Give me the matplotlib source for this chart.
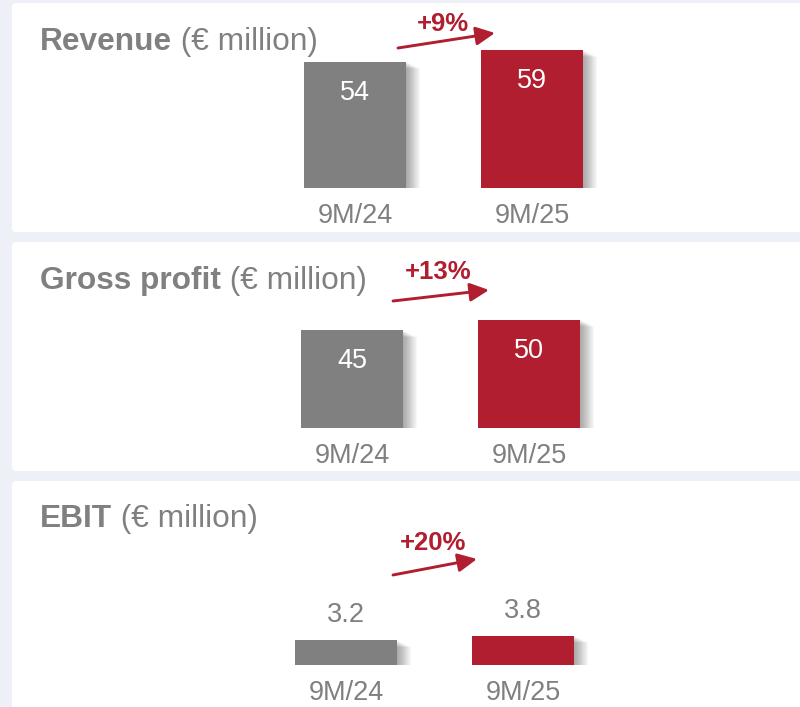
import matplotlib.pyplot as plt
import matplotlib.patheffects as pe
from matplotlib.patches import FancyBboxPatch, FancyArrowPatch
from matplotlib.transforms import Affine2D

plt.rcParams['font.family'] = ['Liberation Sans', 'DejaVu Sans']

# Data
periods = ['9M/24', '9M/25']
metrics = ['Revenue', 'Gross profit', 'EBIT']
unit = ' (€ million)'
revenue = [54, 59]
gross_profit = [45, 50]
ebit = [3.2, 3.8]
growth = ['+9%', '+13%', '+20%']

# Colours
BG = '#edf0f7'
GREY = '#808080'
RED = '#b01e30'

W, H = 800, 707

# Layout of each card, in pixels from the top-left corner
layout = [
    dict(top=3, bottom=232, x0=355, base=188, scale=2.34, ymax=60,
         title_y=50, arrow=((398, 48), (495, 33)), pct=(443, 24),
         inside=True),
    dict(top=242, bottom=471, x0=352, base=428, scale=2.17, ymax=60,
         title_y=289, arrow=((393, 301), (489, 290)), pct=(438, 272),
         inside=True),
    dict(top=481, bottom=730, x0=346, base=665, scale=7.7, ymax=10,
         title_y=527, arrow=((393, 575), (477, 559)), pct=(433, 543),
         inside=False),
]
series = [revenue, gross_profit, ebit]

spacing = 177
bar_px = 102

fig = plt.figure(figsize=(W / 100, H / 100), dpi=100)
fig.patch.set_facecolor(BG)

# pixel coordinates measured from the top-left corner
to_disp = Affine2D().scale(1, -1).translate(0, H)

# soft drop shadow for the bars (many faint layers)
shadow = [pe.SimplePatchShadow(offset=(0.45 * d, -0.22 * d),
                               shadow_rgbFace='black', alpha=0.016)
          for d in range(1, 24)] + [pe.Normal()]

titles = []
for lay, values, name, pct in zip(layout, series, metrics, growth):
    # White card
    card = FancyBboxPatch((12, lay['top']), 820, lay['bottom'] - lay['top'],
                          boxstyle='round,pad=0,rounding_size=4',
                          transform=to_disp, facecolor='white',
                          edgecolor='none', zorder=0)
    fig.add_artist(card)

    # Bar axes
    left = lay['x0'] - spacing
    height = lay['ymax'] * lay['scale']
    ax = fig.add_axes([left / W, (H - lay['base']) / H,
                       3 * spacing / W, height / H])
    ax.set_xlim(-1, 2)
    ax.set_ylim(0, lay['ymax'])
    ax.axis('off')

    xs = range(len(values))
    ax.bar(xs, values, width=bar_px / spacing, color=[GREY, RED],
           path_effects=shadow, zorder=2)

    for x, v, p in zip(xs, values, periods):
        if lay['inside']:
            ax.annotate('{:g}'.format(v), (x, v), xytext=(0, -31),
                        textcoords='offset pixels', ha='center', va='center',
                        color='white', fontsize=19.5, annotation_clip=False,
                        zorder=3)
        else:
            ax.annotate('{:g}'.format(v), (x, v), xytext=(0, 25),
                        textcoords='offset pixels', ha='center', va='center',
                        color=GREY, fontsize=19.5, annotation_clip=False)
        ax.annotate(p, (x, 0), xytext=(0, -28), textcoords='offset pixels',
                    ha='center', va='center', color=GREY, fontsize=19.5,
                    annotation_clip=False)

    # Growth arrow
    arrow = FancyArrowPatch(lay['arrow'][0], lay['arrow'][1],
                            transform=to_disp,
                            arrowstyle='-|>,head_length=11.5,head_width=5.6',
                            mutation_scale=1, lw=2.1, color=RED,
                            shrinkA=0, shrinkB=0)
    fig.add_artist(arrow)
    fig.text(lay['pct'][0], lay['pct'][1], pct, transform=to_disp,
             ha='center', va='center', color=RED, fontsize=18.5,
             fontweight='bold')

    # Title, bold part first
    t = fig.text(40, lay['title_y'], name, transform=to_disp, ha='left',
                 va='baseline', color=GREY, fontsize=22.8, fontweight='bold')
    titles.append((t, lay['title_y']))

fig.canvas.draw()
for t, y in titles:
    bb = t.get_window_extent()
    fig.text(bb.x1, y, unit, transform=to_disp, ha='left', va='baseline',
             color=GREY, fontsize=22.8)

fig.savefig('out.png', dpi=100, facecolor=BG)
